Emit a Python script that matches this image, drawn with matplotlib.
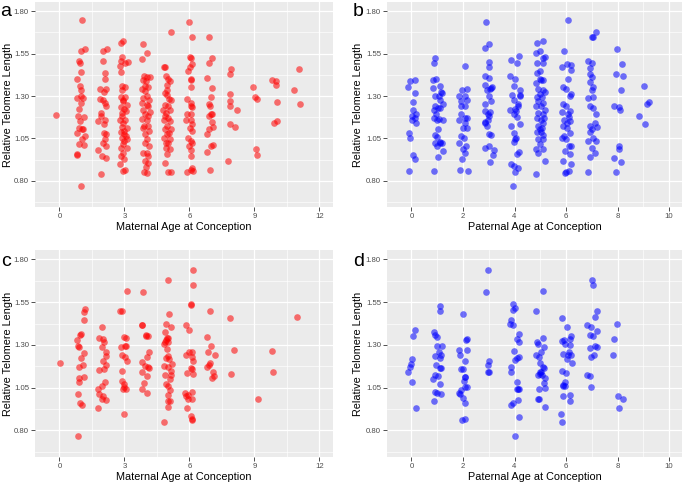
import matplotlib
matplotlib.use("Agg")
import matplotlib.pyplot as plt
import numpy as np

plt.rcParams['font.family'] = ['Liberation Sans', 'DejaVu Sans']

# ---- data: (jittered) parental age at conception vs relative telomere length ----
# panel a: maternal age, full sample
mat_age_a = [
    -0.14,
    1.03, 0.98, 1.2, 0.92, 0.95, 1.0, 0.82, 0.95, 1.02, 0.8, 1.02, 1.08, 1.0, 0.92,
    0.85, 1.15, 0.97, 0.92, 1.11, 1.03, 0.8, 1.18, 1.03, 0.92, 1.12, 0.83, 0.82, 1.02,
    2.0, 2.18, 2.0, 2.12, 2.09, 1.89, 2.15, 2.05, 1.88, 2.0, 2.12, 2.17, 1.94,
    1.91, 1.8, 2.11, 2.08, 2.08, 2.15, 2.09, 2.03, 2.14, 1.8, 1.95, 2.17, 1.91,
    2.92, 2.85, 2.89, 2.85, 3.15, 3.03, 2.82, 2.85, 2.91, 3.03, 2.91, 2.85, 3.03, 2.95,
    2.95, 3.11, 2.85, 2.97, 3.08, 2.88, 2.91, 2.82, 3.03, 2.95, 2.91, 3.11, 3.0, 2.85,
    3.0, 3.06, 2.91, 3.12, 2.97, 2.95, 2.85, 3.11, 2.94, 2.85, 3.0, 2.8, 2.95, 3.02,
    3.88, 4.02, 3.8, 3.89, 4.03, 4.17, 3.85, 4.0, 3.95, 4.11, 3.83, 3.95, 4.03, 3.88,
    4.15, 3.83, 4.03, 4.11, 3.88, 4.18, 3.95, 4.08, 3.83, 4.03, 3.92, 4.11, 3.88, 4.15,
    3.95, 4.05, 3.95, 4.15, 3.88, 4.03, 4.11, 3.95, 4.08, 4.0, 3.92, 4.06,
    5.14, 4.88, 4.82, 4.91, 5.02, 5.11, 4.95, 4.88, 4.98, 5.14, 4.88, 5.02, 4.8, 5.11,
    4.92, 5.02, 4.83, 5.11, 4.95, 4.88, 5.14, 4.95, 4.83, 5.11, 5.02, 4.92, 5.11, 4.98,
    4.88, 5.02, 5.14, 4.98, 5.08, 4.88, 5.08, 4.92,
    6.0, 6.14, 6.02, 6.06, 6.11, 6.03, 5.94, 6.05, 6.06, 6.06, 5.91, 6.06, 6.05, 6.11,
    5.91, 6.06, 5.86, 6.05, 6.11, 6.03, 6.11, 5.94, 6.05, 6.11, 6.0, 6.06, 6.06, 6.11,
    6.05, 5.91, 6.15,
    6.92, 7.03, 6.92, 6.83, 7.06, 6.98, 6.89, 6.95, 6.98, 6.92, 7.05, 7.03, 7.08, 6.92,
    6.83, 7.08, 6.98, 6.83, 6.95,
    7.92, 7.85, 7.85, 7.85, 7.88, 8.18, 7.89, 8.11, 7.8,
    8.95, 9.03, 9.12, 9.05, 9.14,
    9.83, 9.98, 9.98, 10.03, 9.91, 10.05,
    11.05, 10.82, 11.08,
]
rtl_mat_a = [
    1.19,
    1.747, 1.568, 1.575, 1.509, 1.493, 1.44, 1.40, 1.36, 1.337, 1.288, 1.298, 1.288, 1.259, 1.226,
    1.185, 1.175, 1.152, 1.112, 1.108, 1.108, 1.083, 1.064, 1.048, 1.015, 1.013, 0.96, 0.95, 0.767,
    1.568, 1.577, 1.507, 1.435, 1.402, 1.341, 1.341, 1.321, 1.282, 1.279, 1.259, 1.243, 1.20,
    1.185, 1.15, 1.159, 1.134, 1.083, 1.073, 1.048, 1.025, 1.005, 0.98, 0.946, 0.933, 0.839,
    1.624, 1.614, 1.529, 1.507, 1.499, 1.493, 1.48, 1.441, 1.361, 1.353, 1.333, 1.294, 1.294, 1.278,
    1.269, 1.247, 1.236, 1.224, 1.21, 1.20, 1.181, 1.161, 1.161, 1.138, 1.118, 1.112, 1.093, 1.087,
    1.073, 1.064, 1.054, 1.044, 1.034, 1.015, 0.995, 0.995, 0.966, 0.946, 0.931, 0.898, 0.859, 0.864,
    1.61, 1.552, 1.517, 1.419, 1.415, 1.411, 1.396, 1.386, 1.357, 1.353, 1.341, 1.327, 1.298, 1.286,
    1.278, 1.259, 1.249, 1.239, 1.22, 1.204, 1.191, 1.181, 1.165, 1.157, 1.126, 1.122, 1.112, 1.093,
    1.073, 1.048, 1.025, 1.005, 0.966, 0.962, 0.946, 0.917, 0.907, 0.88, 0.849, 0.843,
    1.675, 1.474, 1.474, 1.419, 1.40, 1.386, 1.337, 1.318, 1.304, 1.278, 1.249, 1.239, 1.22, 1.216,
    1.20, 1.171, 1.161, 1.152, 1.126, 1.103, 1.103, 1.073, 1.054, 1.044, 1.025, 0.995, 0.986, 0.956,
    0.907, 0.853, 0.853, 1.366, 1.285, 1.181, 1.083, 1.02,
    1.738, 1.65, 1.532, 1.523, 1.489, 1.474, 1.445, 1.402, 1.392, 1.353, 1.284, 1.259, 1.243, 1.236,
    1.196, 1.191, 1.161, 1.161, 1.132, 1.112, 1.093, 1.054, 1.034, 1.021, 1.005, 0.982, 0.946, 0.878,
    0.864, 0.849, 0.859,
    1.65, 1.523, 1.493, 1.405, 1.347, 1.294, 1.255, 1.239, 1.196, 1.185, 1.191, 1.146, 1.118, 1.103,
    1.077, 1.011, 1.005, 0.97, 0.862,
    1.458, 1.431, 1.312, 1.273, 1.243, 1.22, 1.132, 1.118, 0.917,
    1.351, 1.294, 1.284, 0.986, 0.952,
    1.392, 1.39, 1.364, 1.263, 1.142, 1.154,
    1.462, 1.337, 1.255,
]

# panel b: paternal age, full sample
pat_age_b = [
    -0.13, -0.04, 0.12, 0.13, 0.06, 0.05, 0.17, 0.03, 0.12, 0.01, 0.18, -0.1, -0.05, 0.05, 0.13, -0.1,
    0.93, 0.88, 0.83, 0.96, 1.12, 0.83, 1.14, 0.93, 1.06, 1.21, 0.9, 1.03, 0.87, 1.12, 0.96, 0.87,
    1.06, 1.21, 1.03, 0.93, 0.99, 1.09, 0.93, 1.19, 1.12, 1.01, 1.21, 1.03, 0.87, 0.99, 1.12, 1.19,
    2.07, 1.96, 2.17, 1.86, 2.09, 1.94, 2.14, 1.91, 2.09, 1.86, 2.07, 2.14, 1.99,
    2.16, 1.94, 2.03, 1.86, 2.12, 1.99, 2.07, 1.96, 1.89, 2.2, 2.09, 1.94,
    2.91, 3.02, 2.87, 3.0, 3.02, 2.84, 3.02, 2.87, 3.13, 3.06, 2.93, 3.0, 3.1, 2.84, 2.87,
    3.06, 2.97, 3.02, 2.84, 2.87, 2.95, 3.02, 3.1, 3.0, 2.87, 3.19, 3.15, 3.06, 2.97, 3.1,
    3.88, 4.16, 4.1, 3.84, 4.03, 3.97, 4.2, 3.9, 4.22, 3.97, 4.13, 3.84, 3.99, 4.1, 3.86, 4.22,
    3.97, 4.03, 3.99, 4.16, 4.1, 3.86, 3.97, 4.12, 4.03, 3.94, 4.22, 4.07, 4.0, 4.05, 4.12,
    4.87, 5.09, 5.0, 4.85, 5.1, 5.19, 4.87, 5.1, 4.97, 4.87, 4.97, 5.12, 4.85, 5.03, 4.93,
    5.12, 5.19, 4.87, 5.06, 4.93, 5.12, 4.85, 5.03, 5.19, 4.93, 5.1, 4.87, 5.03, 5.12, 4.93,
    5.06, 4.87, 5.03, 5.1, 4.9, 5.12, 5.0, 4.85, 5.1, 4.93, 5.19, 4.85, 5.0, 5.15, 4.97,
    6.06, 5.93, 5.84, 6.03, 6.19, 6.19, 6.06, 5.9, 6.0, 6.19, 6.14, 5.9, 6.0, 6.16, 5.84, 6.06, 5.93, 6.14,
    5.88, 6.03, 6.16, 5.93, 5.84, 6.0, 6.1, 6.19, 5.97, 6.14, 5.9, 6.19, 6.0, 6.11, 5.97, 6.03, 6.1,
    7.0, 7.06, 7.17, 6.87, 7.0, 6.94, 6.91, 7.0, 6.91, 7.06, 7.0, 6.87, 7.04, 6.94,
    7.06, 7.17, 6.91, 7.0, 7.13, 7.19, 6.91, 7.04, 7.17, 6.87, 7.0, 7.13, 6.94, 6.87,
    7.97, 8.16, 7.93, 8.2, 8.14, 7.87, 8.04, 8.11, 8.04, 8.04, 7.87, 8.14, 7.92,
    9.04, 9.13, 9.2, 8.85, 9.07,
]
rtl_pat_b = [
    1.353, 1.39, 1.396, 1.318, 1.265, 1.216, 1.191, 1.181, 1.171, 1.157, 1.142, 1.083, 1.052, 0.952, 0.931, 0.859,
    1.523, 1.493, 1.396, 1.402, 1.361, 1.347, 1.321, 1.298, 1.298, 1.255, 1.239, 1.23, 1.22, 1.23, 1.191, 1.171,
    1.165, 1.161, 1.103, 1.068, 1.06, 1.029, 1.021, 1.021, 1.021, 1.005, 0.976, 0.943, 0.859, 1.157, 1.278, 1.318,
    1.478, 1.333, 1.341, 1.298, 1.298, 1.269, 1.278, 1.239, 1.243, 1.161, 1.171, 1.171, 1.112,
    1.112, 1.064, 1.054, 1.021, 1.005, 0.986, 0.966, 0.931, 0.864, 0.859, 1.142, 1.191,
    1.738, 1.61, 1.581, 1.503, 1.474, 1.419, 1.405, 1.366, 1.353, 1.341, 1.333, 1.298, 1.269, 1.255, 1.21,
    1.204, 1.191, 1.181, 1.146, 1.138, 1.122, 1.073, 1.068, 1.005, 0.995, 0.982, 0.95, 0.911, 1.161, 1.347,
    1.513, 1.536, 1.493, 1.419, 1.402, 1.361, 1.337, 1.308, 1.308, 1.278, 1.243, 1.22, 1.191, 1.175, 1.126, 1.132,
    1.083, 1.044, 1.029, 0.97, 0.956, 0.898, 0.888, 0.878, 0.849, 0.767, 1.298, 1.21, 1.225, 1.05, 1.255,
    1.614, 1.624, 1.568, 1.552, 1.523, 1.529, 1.493, 1.493, 1.445, 1.435, 1.40, 1.396, 1.376, 1.396, 1.341,
    1.337, 1.321, 1.294, 1.294, 1.269, 1.259, 1.243, 1.239, 1.22, 1.20, 1.191, 1.171, 1.157, 1.142, 1.122,
    1.112, 1.087, 1.087, 1.068, 1.048, 1.044, 1.015, 0.986, 0.986, 0.962, 0.917, 0.839, 1.314, 1.171, 1.103,
    1.747, 1.568, 1.474, 1.489, 1.484, 1.454, 1.40, 1.353, 1.341, 1.314, 1.298, 1.255, 1.239, 1.21, 1.204, 1.191, 1.161, 1.152,
    1.122, 1.112, 1.083, 1.064, 1.054, 1.044, 1.005, 1.005, 0.976, 0.956, 0.917, 0.898, 0.849, 0.859, 0.845, 1.138, 1.177,
    1.646, 1.646, 1.675, 1.509, 1.493, 1.464, 1.431, 1.411, 1.38, 1.353, 1.337, 1.288, 1.294, 1.243,
    1.23, 1.191, 1.122, 1.103, 1.138, 1.118, 1.087, 1.054, 1.034, 1.034, 0.995, 0.962, 0.941, 0.849,
    1.575, 1.489, 1.431, 1.419, 1.333, 1.239, 1.236, 1.22, 1.005, 0.986, 0.933, 0.913, 0.853,
    1.357, 1.255, 1.263, 1.185, 1.132,
]

# panel c: maternal age, subsample
mat_age_c = [
    0.03,
    1.18, 1.15, 1.15, 0.98, 0.95, 0.8, 0.85, 0.91, 1.14, 1.0, 1.08, 0.89, 1.14, 0.89, 0.92, 0.88, 0.94, 1.03, 0.85,
    1.95, 1.85, 2.0, 2.05, 1.98, 2.15, 2.15, 2.03, 2.14, 1.85, 2.08, 2.11, 1.95, 1.8, 1.83, 2.03, 2.14, 1.95, 1.8,
    2.8, 2.91, 3.14, 3.0, 3.09, 3.06, 2.85, 2.91, 3.03, 3.12, 2.91, 2.88, 3.0, 2.95, 3.06, 3.0, 3.0, 3.03,
    3.88, 3.8, 3.82, 3.98, 4.11, 4.0, 4.14, 3.8, 4.03, 3.95, 4.08, 4.15, 3.83, 4.05, 3.89, 3.8, 4.05,
    5.0, 5.06, 4.91, 5.17, 4.88, 4.95, 4.88, 5.03, 4.85, 4.97, 5.03, 4.92, 5.08, 4.85, 5.18,
    5.0, 5.14, 4.88, 5.17, 5.11, 4.92, 5.03, 5.09, 5.0, 5.0, 5.11, 5.03, 4.82, 5.0, 4.91,
    6.15, 6.15, 6.05, 6.08, 5.83, 5.97, 5.98, 5.85, 6.11, 6.14, 6.17, 6.05, 6.14,
    5.91, 6.17, 5.8, 5.92, 6.11, 5.83, 5.95, 6.11, 5.89, 6.08, 6.11, 6.14,
    6.97, 6.83, 7.0, 6.85, 7.18, 6.95, 6.91, 6.8, 7.08, 7.14, 7.03,
    7.89, 8.06, 7.91,
    9.17, 9.82, 9.85, 10.98,
]
rtl_mat_c = [
    1.192,
    1.512, 1.492, 1.443, 1.365, 1.359, 1.331, 1.296, 1.286, 1.253, 1.225, 1.184, 1.173, 1.114, 1.108, 1.084, 1.012, 0.963, 0.951, 0.767,
    1.404, 1.341, 1.335, 1.32, 1.286, 1.257, 1.237, 1.206, 1.184, 1.151, 1.159, 1.084, 1.061, 1.045, 1.012, 1.002, 0.978, 0.986, 0.933,
    1.498, 1.498, 1.618, 1.349, 1.339, 1.296, 1.29, 1.241, 1.227, 1.208, 1.147, 1.09, 1.071, 1.045, 1.041, 1.057, 0.894, 1.296,
    1.612, 1.418, 1.416, 1.359, 1.355, 1.351, 1.257, 1.202, 1.231, 1.178, 1.169, 1.167, 1.139, 1.116, 1.076, 1.041, 1.02,
    1.678, 1.478, 1.424, 1.404, 1.378, 1.339, 1.32, 1.339, 1.306, 1.276, 1.233, 1.224, 1.218, 1.178, 1.188,
    1.169, 1.147, 1.127, 1.124, 1.1, 1.071, 1.061, 1.037, 1.008, 0.973, 0.973, 0.937, 0.849, 1.32, 1.331,
    1.741, 1.651, 1.531, 1.539, 1.414, 1.39, 1.257, 1.241, 1.257, 1.227, 1.206, 1.163, 1.161,
    1.135, 1.129, 1.022, 1.008, 1.026, 1.002, 0.986, 0.986, 0.933, 0.884, 0.861, 0.869,
    1.496, 1.349, 1.296, 1.257, 1.241, 1.194, 1.182, 1.171, 1.139, 1.12, 1.104,
    1.459, 1.273, 1.131,
    0.986, 1.265, 1.143, 1.465,
]

# panel d: paternal age, subsample
pat_age_d = [
    0.13, 0.06, 0.03, 0.0, -0.05, -0.13, 0.03, 0.18,
    1.1, 1.1, 0.87, 0.9, 0.99, 0.99, 1.19, 1.06, 0.93, 1.16, 1.09,
    0.97, 1.09, 1.16, 0.93, 1.03, 0.83, 1.12, 0.9, 1.16, 0.99, 0.87,
    1.99, 1.83, 1.9, 2.16, 2.12, 2.17, 2.09, 1.94, 1.99, 2.07, 2.09,
    1.94, 1.86, 1.9, 1.99, 2.07, 2.16, 2.09, 1.96, 2.09, 2.04,
    2.96, 2.91, 3.02, 2.98, 2.97, 3.0,
    3.93, 3.94, 4.03, 3.88, 3.95, 3.84, 4.19, 4.1, 4.16, 3.98, 4.11, 4.19,
    4.03, 3.85, 3.86, 4.1, 4.13, 4.08, 4.19, 4.13, 3.93, 3.86, 4.19, 4.03,
    4.83, 5.1, 4.87, 4.91, 5.1, 5.01, 5.13, 4.83, 4.94, 4.99, 5.14, 5.09,
    4.97, 5.04, 5.19, 4.91, 5.13, 5.19, 4.94, 4.91, 4.96, 5.19, 5.0, 5.06,
    5.84, 6.02, 5.92, 5.84, 6.15, 5.94, 6.16, 5.87, 6.12, 6.07, 6.18, 6.2, 6.03,
    6.23, 5.84, 5.99, 5.94, 5.9, 5.87, 5.94, 6.16, 5.9, 6.15, 5.81, 5.84,
    6.99, 7.03, 7.2, 7.13, 6.82, 6.98, 6.91, 7.03, 7.2, 6.91, 7.13, 7.2, 6.98, 7.1, 6.82, 6.91, 6.98,
    7.96, 7.87, 7.83, 8.0, 8.2, 8.07,
]
rtl_pat_d = [
    1.39, 1.355, 1.218, 1.188, 1.169, 1.143, 1.084, 0.933,
    1.525, 1.496, 1.378, 1.361, 1.345, 1.296, 1.296, 1.257, 1.233, 1.241, 1.222,
    1.182, 1.163, 1.163, 1.124, 1.12, 1.1, 1.071, 1.025, 1.016, 1.018, 0.973,
    1.478, 1.273, 1.241, 1.335, 1.329, 1.273, 1.204, 1.159, 1.159, 1.112, 1.11,
    1.037, 1.018, 1.012, 0.988, 0.961, 1.057, 1.057, 0.861, 0.865, 1.09,
    1.741, 1.612, 1.208, 1.185, 1.141, 1.143,
    1.537, 1.502, 1.516, 1.443, 1.418, 1.424, 1.365, 1.335, 1.32, 1.267, 1.222, 1.229,
    1.212, 1.171, 1.139, 1.084, 1.045, 1.045, 1.045, 0.976, 0.963, 0.951, 0.88, 0.767,
    1.496, 1.618, 1.32, 1.306, 1.339, 1.257, 1.29, 1.241, 1.227, 1.192, 1.163, 1.169,
    1.133, 1.143, 1.104, 1.124, 1.076, 1.051, 1.045, 0.986, 0.986, 0.939, 1.139, 1.127,
    1.457, 1.402, 1.331, 1.325, 1.335, 1.306, 1.302, 1.247, 1.257, 1.241, 1.241, 1.355, 1.218,
    1.194, 1.147, 1.135, 1.084, 1.065, 1.061, 1.061, 1.006, 1.002, 0.973, 0.894, 0.849,
    1.678, 1.649, 1.496, 1.463, 1.414, 1.404, 1.359, 1.351, 1.382, 1.282, 1.292, 1.29, 1.227, 1.243, 1.127, 1.118, 1.055,
    1.422, 1.335, 1.241, 1.002, 0.982, 0.933,
]

y_ticks = [0.80, 1.05, 1.30, 1.55, 1.80]
mat_ticks = [0, 3, 6, 9, 12]
pat_ticks = [0, 2, 4, 6, 8, 10]

W, H = 685, 484
fig = plt.figure(figsize=(W / 100, H / 100), dpi=100)


def gg_axes(rect_px, x, y, color, xticks, xlim, xlabel, letter, letter_px, ylab_cx):
    left, top, right, bottom = rect_px
    w, h = right - left, bottom - top
    ax = fig.add_axes([left / W, 1 - bottom / H, w / W, h / H])
    ax.set_facecolor('#EBEBEB')
    for s in ax.spines.values():
        s.set_visible(False)
    ax.scatter(x, y, s=23, color=color, alpha=0.55, linewidths=0, zorder=3)
    ax.set_xticks(xticks)
    ax.set_yticks(y_ticks)
    ax.set_yticklabels([f"{v:.2f}" for v in y_ticks])
    step = xticks[1] - xticks[0]
    ax.set_xticks([t + step / 2 for t in xticks[:-1]], minor=True)
    ax.set_yticks([0.675] + [v + 0.125 for v in y_ticks[:-1]], minor=True)
    ax.set_ylim(0.645, 1.855)
    ax.set_xlim(*xlim)
    ax.grid(which='major', color='white', linewidth=0.9, zorder=0)
    ax.grid(which='minor', color='white', linewidth=0.45, zorder=0)
    ax.set_axisbelow(True)
    ax.tick_params(which='major', length=2.8, width=0.6, color='#333333',
                   labelsize=5.6, labelcolor='#4D4D4D', pad=1.6)
    ax.tick_params(which='minor', length=0)
    ax.set_xlabel(xlabel, fontsize=7.8)
    ax.set_ylabel('Relative Telomere Length', fontsize=7.8)
    # label placement in pixels, converted to axes fraction
    ax.xaxis.set_label_coords(0.5, -15.0 / h)
    ax.yaxis.set_label_coords(-(left - ylab_cx - 5.5) / w, 0.5)
    fig.text(letter_px[0] / W, 1 - letter_px[1] / H, letter, fontsize=14,
             ha='left', va='center')
    return ax


gg_axes((35, 2, 333, 207), mat_age_a, rtl_mat_a, '#FF0000', mat_ticks, (-1.125, 12.625),
        'Maternal Age at Conception', 'a', (0, 12), 8)
gg_axes((387, 2, 682, 207), pat_age_b, rtl_pat_b, '#0000FF', pat_ticks, (-0.95, 10.5),
        'Paternal Age at Conception', 'b', (353, 12), 358)
gg_axes((35, 250, 333, 457), mat_age_c, rtl_mat_c, '#FF0000', mat_ticks, (-1.125, 12.625),
        'Maternal Age at Conception', 'c', (1, 262), 8)
gg_axes((387, 250, 682, 457), pat_age_d, rtl_pat_d, '#0000FF', pat_ticks, (-0.95, 10.5),
        'Paternal Age at Conception', 'd', (353, 262), 358)

fig.savefig('out.png', dpi=100, facecolor='white')
